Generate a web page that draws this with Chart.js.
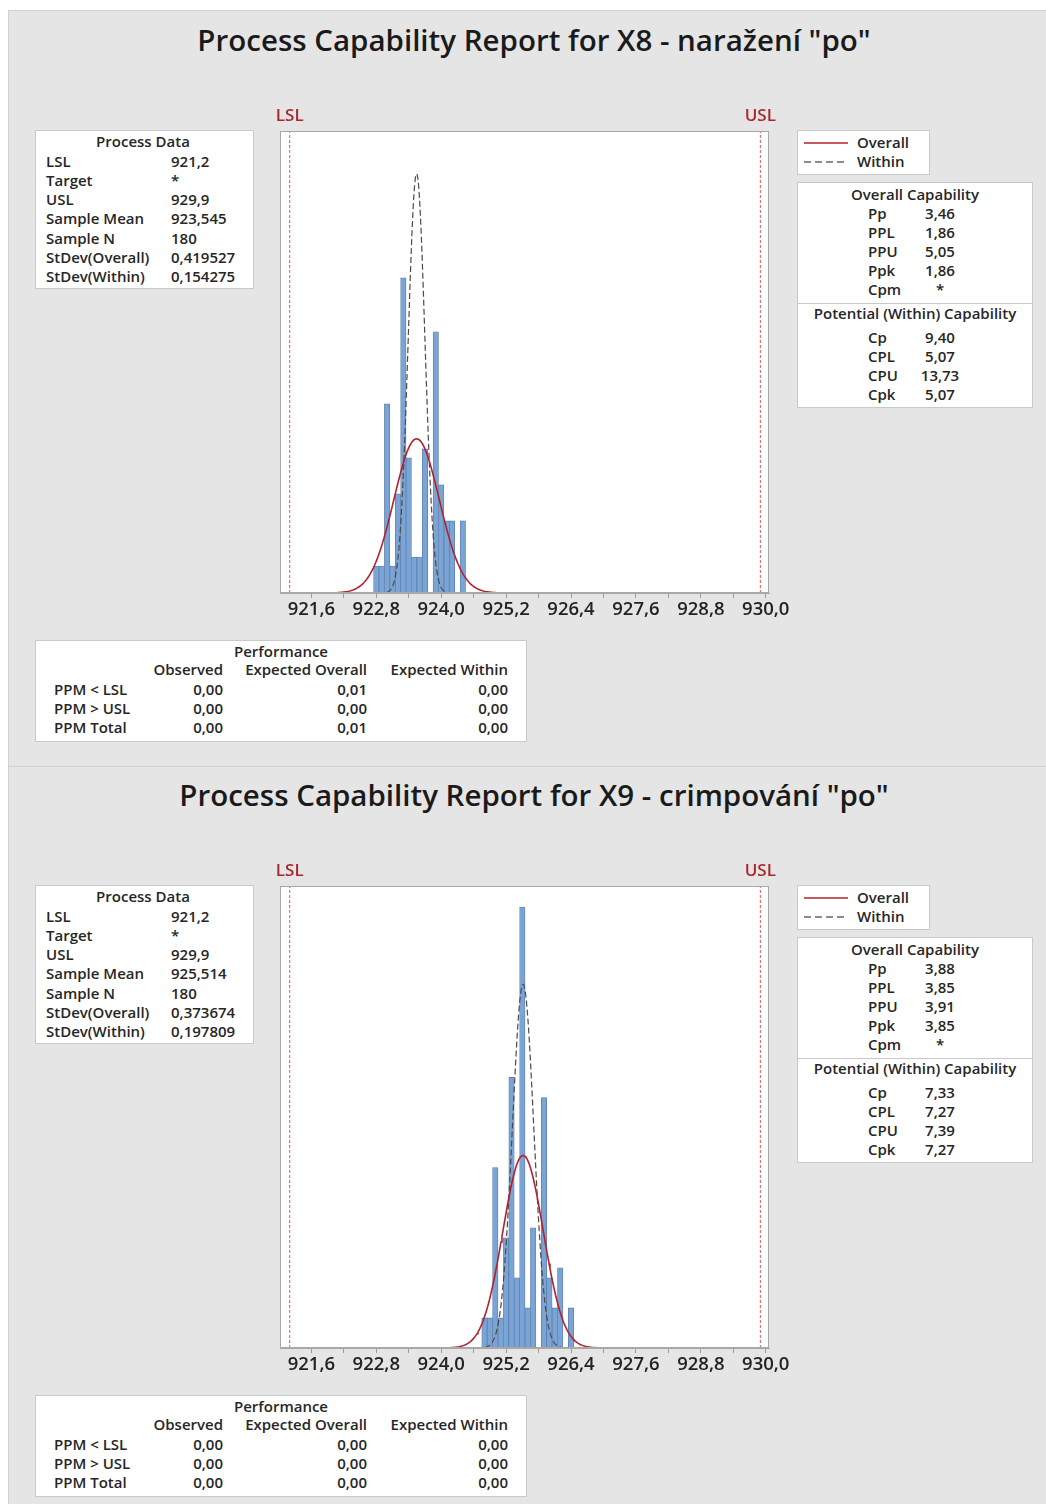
<!DOCTYPE html>
<html lang="cs">
<head>
<meta charset="utf-8">
<title>Process Capability Report</title>
<script src="https://cdn.jsdelivr.net/npm/chart.js@4.4.1/dist/chart.umd.min.js"></script>
<style>
  html, body { margin: 0; padding: 0; background: #ffffff; }
  body { width: 1046px; height: 1504px; position: relative; overflow: hidden;
         font-family: "Open Sans", "Noto Sans", sans-serif; color: #1f1f1f; }
  .panel { position: absolute; left: 8px; width: 1038px; background: #e5e5e5;
           border-top: 1px solid #d0d0d0; border-left: 1px solid #d0d0d0; box-sizing: border-box; }
  .box { position: absolute; background: #ffffff; border: 1px solid #c9c9c9; box-sizing: border-box; }
  .t { position: absolute; white-space: nowrap; font-size: 15px; font-weight: 600; color: #262626; }
  .title { position: absolute; white-space: nowrap; font-size: 29.5px; font-weight: 600; color: #1a1a1a; }
  .rule { position: absolute; height: 0; }
  .plot { position: absolute; }
  svg.key { position: absolute; overflow: visible; }
</style>
</head>
<body>
<script>
// ---- shared axis values ----
const majorTicks = [921.6, 922.8, 924.0, 925.2, 926.4, 927.6, 928.8, 930.0];
const majorTickLabels = ['921,6', '922,8', '924,0', '925,2', '926,4', '927,6', '928,8', '930,0'];
const specLabels = ['LSL', 'USL'];

// ---- X8 - naražení "po" ----
const binMidsX8 = [922.8, 922.9, 923.0, 923.1, 923.2, 923.3, 923.4, 923.5, 923.6,
                   923.7, 923.8, 923.9, 924.0, 924.1, 924.2, 924.3, 924.4];
const countsX8  = [3, 3, 21, 3, 11, 35, 15, 4, 4, 16, 0, 29, 12, 8, 8, 0, 8];
const processDataX8 = ['921,2', '*', '929,9', '923,545', '180', '0,419527', '0,154275'];
const overallCapX8  = ['3,46', '1,86', '5,05', '1,86', '*'];
const withinCapX8   = ['9,40', '5,07', '13,73', '5,07'];
const perfX8 = [['0,00', '0,01', '0,00'],
                ['0,00', '0,00', '0,00'],
                ['0,00', '0,01', '0,00']];

// ---- X9 - crimpování "po" ----
const binMidsX9 = [924.8, 924.9, 925.0, 925.1, 925.2, 925.3, 925.4, 925.5, 925.6,
                   925.7, 925.8, 925.9, 926.0, 926.1, 926.2, 926.3, 926.4];
const countsX9  = [3, 3, 18, 3, 11, 27, 7, 44, 4, 12, 0, 25, 7, 4, 8, 0, 4];
const processDataX9 = ['921,2', '*', '929,9', '925,514', '180', '0,373674', '0,197809'];
const overallCapX9  = ['3,88', '3,85', '3,91', '3,85', '*'];
const withinCapX9   = ['7,33', '7,27', '7,39', '7,27'];
const perfX9 = [['0,00', '0,00', '0,00'],
                ['0,00', '0,00', '0,00'],
                ['0,00', '0,00', '0,00']];

// ---- table row labels ----
const processDataLabels = ['LSL', 'Target', 'USL', 'Sample Mean', 'Sample N', 'StDev(Overall)', 'StDev(Within)'];
const overallCapLabels = ['Pp', 'PPL', 'PPU', 'Ppk', 'Cpm'];
const withinCapLabels = ['Cp', 'CPL', 'CPU', 'Cpk'];
const perfColumns = ['Observed', 'Expected Overall', 'Expected Within'];
const perfRows = ['PPM < LSL', 'PPM > USL', 'PPM Total'];

const reports = [
  { title: 'Process Capability Report for X8 - naražení "po"', mids: binMidsX8, counts: countsX8,
    pdata: processDataX8, ocap: overallCapX8, wcap: withinCapX8, perf: perfX8, yMax: 51.3 },
  { title: 'Process Capability Report for X9 - crimpování "po"', mids: binMidsX9, counts: countsX9,
    pdata: processDataX9, ocap: overallCapX9, wcap: withinCapX9, perf: perfX9, yMax: 46.1 }
];

const FONT = '"Open Sans", "Noto Sans", sans-serif';
const num = s => parseFloat(s.replace(',', '.'));

function text(str, x, y, align, cls, extra) {
  const el = document.createElement('div');
  el.className = cls || 't';
  el.textContent = str;
  const lh = 20;
  el.style.left = x + 'px';
  el.style.top = (y - lh / 2) + 'px';
  el.style.lineHeight = lh + 'px';
  if (align === 'center') el.style.transform = 'translateX(-50%)';
  if (align === 'right') el.style.transform = 'translateX(-100%)';
  if (extra) Object.assign(el.style, extra);
  document.body.appendChild(el);
  return el;
}
function box(x, y, w, h) {
  const el = document.createElement('div');
  el.className = 'box';
  Object.assign(el.style, { left: x + 'px', top: y + 'px', width: w + 'px', height: h + 'px' });
  document.body.appendChild(el);
  return el;
}
function rule(x, y, w, style) {
  const el = document.createElement('div');
  el.className = 'rule';
  Object.assign(el.style, { left: x + 'px', top: y + 'px', width: w + 'px', borderTop: style });
  document.body.appendChild(el);
}
// legend key line (solid or dashed)
function keyLine(x, y, w, color, width, dash) {
  const ns = 'http://www.w3.org/2000/svg';
  const s = document.createElementNS(ns, 'svg');
  s.setAttribute('class', 'key');
  s.setAttribute('width', w);
  s.setAttribute('height', 4);
  s.style.left = x + 'px';
  s.style.top = (y - 2) + 'px';
  const l = document.createElementNS(ns, 'line');
  l.setAttribute('x1', 0); l.setAttribute('x2', w);
  l.setAttribute('y1', 2); l.setAttribute('y2', 2);
  l.setAttribute('stroke', color);
  l.setAttribute('stroke-width', width);
  if (dash) l.setAttribute('stroke-dasharray', dash);
  s.appendChild(l);
  document.body.appendChild(s);
}

// fitted normal curve scaled to histogram counts
function normalCurve(mean, sd, n, binW, span, steps) {
  const pts = [];
  for (let i = 0; i <= steps; i++) {
    const x = mean - span * sd + (2 * span * sd) * i / steps;
    const z = (x - mean) / sd;
    pts.push({ x, y: n * binW * Math.exp(-0.5 * z * z) / (sd * Math.sqrt(2 * Math.PI)) });
  }
  return pts;
}

// white plot area, frame and spec-limit captions
const plotFrame = {
  id: 'plotFrame',
  beforeDraw(chart) {
    const { ctx, chartArea: a } = chart;
    ctx.save();
    ctx.fillStyle = '#ffffff';
    ctx.fillRect(a.left, a.top, a.width, a.height);
    ctx.restore();
  },
  afterDraw(chart) {
    const { ctx, chartArea: a } = chart;
    const xs = chart.scales.x;
    ctx.save();
    ctx.strokeStyle = '#a8a8a8';
    ctx.lineWidth = 1;
    ctx.strokeRect(a.left + 0.5, a.top + 0.5, a.width - 1, a.height - 1);
    ctx.fillStyle = '#a8282e';
    ctx.font = '600 17px ' + FONT;
    ctx.textAlign = 'center';
    ctx.textBaseline = 'middle';
    chart.options.plugins.plotFrame.limits.forEach((v, i) => {
      ctx.fillText(specLabels[i], xs.getPixelForValue(v), a.top - 15);
    });
    ctx.restore();
  }
};

const allTicks = [];
majorTicks.forEach((t, i) => {
  allTicks.push(t);
  if (i < majorTicks.length - 1) allTicks.push((t + majorTicks[i + 1]) / 2);
});

reports.forEach((r, k) => {
  const dy = k * 755;

  // panel background
  const p = document.createElement('div');
  p.className = 'panel';
  p.style.top = (10 + k * 756) + 'px';
  p.style.height = (k === 0 ? 756 : 1504 - 766) + 'px';
  document.body.appendChild(p);

  // title
  text(r.title, 534, 40 + dy, 'center', 'title', { lineHeight: '36px', top: (22 + dy) + 'px' });

  // process data table
  box(35, 130 + dy, 219, 159);
  text('Process Data', 143, 141 + dy, 'center');
  processDataLabels.forEach((lab, i) => {
    text(lab, 46, 160.5 + i * 19.25 + dy, 'left');
    text(r.pdata[i], 171, 160.5 + i * 19.25 + dy, 'left');
  });

  // legend
  box(797, 130 + dy, 133, 45);
  keyLine(804, 143 + dy, 44, '#c8585d', 2, null);
  keyLine(804, 162 + dy, 44, '#666666', 1.5, '7 4');
  text('Overall', 857, 142 + dy, 'left');
  text('Within', 857, 161 + dy, 'left');

  // capability table
  box(797, 182 + dy, 236, 226);
  text('Overall Capability', 915, 194 + dy, 'center');
  overallCapLabels.forEach((lab, i) => {
    text(lab, 868, 213 + i * 19 + dy, 'left');
    text(r.ocap[i], 940, 213 + i * 19 + dy, 'center');
  });
  rule(798, 303 + dy, 234, '1px solid #c9c9c9');
  text('Potential (Within) Capability', 915, 313 + dy, 'center');
  withinCapLabels.forEach((lab, i) => {
    text(lab, 868, 337 + i * 19 + dy, 'left');
    text(r.wcap[i], 940, 337 + i * 19 + dy, 'center');
  });

  // performance table
  box(35, 640 + dy, 492, 102);
  text('Performance', 281, 651 + dy, 'center');
  const colRight = [223, 367, 508];
  perfColumns.forEach((c, j) => text(c, colRight[j], 669 + dy, 'right'));
  perfRows.forEach((row, i) => {
    text(row, 54, 689 + i * 19 + dy, 'left');
    r.perf[i].forEach((v, j) => text(v, colRight[j], 689 + i * 19 + dy, 'right'));
  });

  // histogram canvas
  const wrap = document.createElement('div');
  wrap.className = 'plot';
  Object.assign(wrap.style, { left: '250px', top: (100 + dy) + 'px', width: '570px', height: '540px' });
  const cv = document.createElement('canvas');
  wrap.appendChild(cv);
  document.body.appendChild(wrap);

  const lsl = num(r.pdata[0]), usl = num(r.pdata[2]);
  const mean = num(r.pdata[3]), n = num(r.pdata[4]);
  const sdOverall = num(r.pdata[5]), sdWithin = num(r.pdata[6]);
  const binW = r.mids[1] - r.mids[0];

  new Chart(cv, {
    type: 'bar',
    data: {
      datasets: [
        { type: 'line', data: normalCurve(mean, sdOverall, n, binW, 3.8, 160),
          borderColor: '#b3222c', borderWidth: 1.6, pointRadius: 0, tension: 0, order: 1 },
        { type: 'line', data: normalCurve(mean, sdWithin, n, binW, 3.6, 160),
          borderColor: '#4a4a4a', borderWidth: 1.2, borderDash: [6, 3], pointRadius: 0, tension: 0, order: 2 },
        { type: 'line', data: [{ x: lsl, y: 0 }, { x: lsl, y: r.yMax }],
          borderColor: '#e0585c', borderWidth: 1, borderDash: [3, 2], pointRadius: 0, order: 3 },
        { type: 'line', data: [{ x: usl, y: 0 }, { x: usl, y: r.yMax }],
          borderColor: '#e0585c', borderWidth: 1, borderDash: [3, 2], pointRadius: 0, order: 3 },
        { type: 'bar', data: r.mids.map((m, i) => ({ x: m, y: r.counts[i] })),
          backgroundColor: '#7aa4d6', borderColor: '#5f80ab', borderWidth: 0.8,
          barPercentage: 1, categoryPercentage: 1, order: 4 }
      ]
    },
    options: {
      responsive: true,
      maintainAspectRatio: false,
      animation: false,
      events: [],
      layout: { padding: { left: 30, right: 51, top: 31, bottom: 7 } },
      plugins: { legend: { display: false }, tooltip: { enabled: false },
                 plotFrame: { limits: [lsl, usl] } },
      scales: {
        x: {
          type: 'linear', min: 921.02, max: 930.06, offset: false,
          afterBuildTicks(scale) { scale.ticks = allTicks.map(v => ({ value: v })); },
          afterFit(scale) { scale.height = 40; },
          ticks: {
            autoSkip: false, maxRotation: 0, padding: 1, color: '#222222',
            font: { family: FONT, size: 18.5, weight: '600' },
            callback(value) {
              const i = majorTicks.findIndex(t => Math.abs(t - value) < 1e-6);
              return i >= 0 ? majorTickLabels[i] : '';
            }
          },
          grid: { drawOnChartArea: false, drawTicks: true, tickLength: 5, color: '#9a9a9a', offset: false },
          border: { display: true, color: '#a8a8a8' }
        },
        y: { display: false, min: 0, max: r.yMax }
      }
    },
    plugins: [plotFrame]
  });
});
</script>
</body>
</html>
